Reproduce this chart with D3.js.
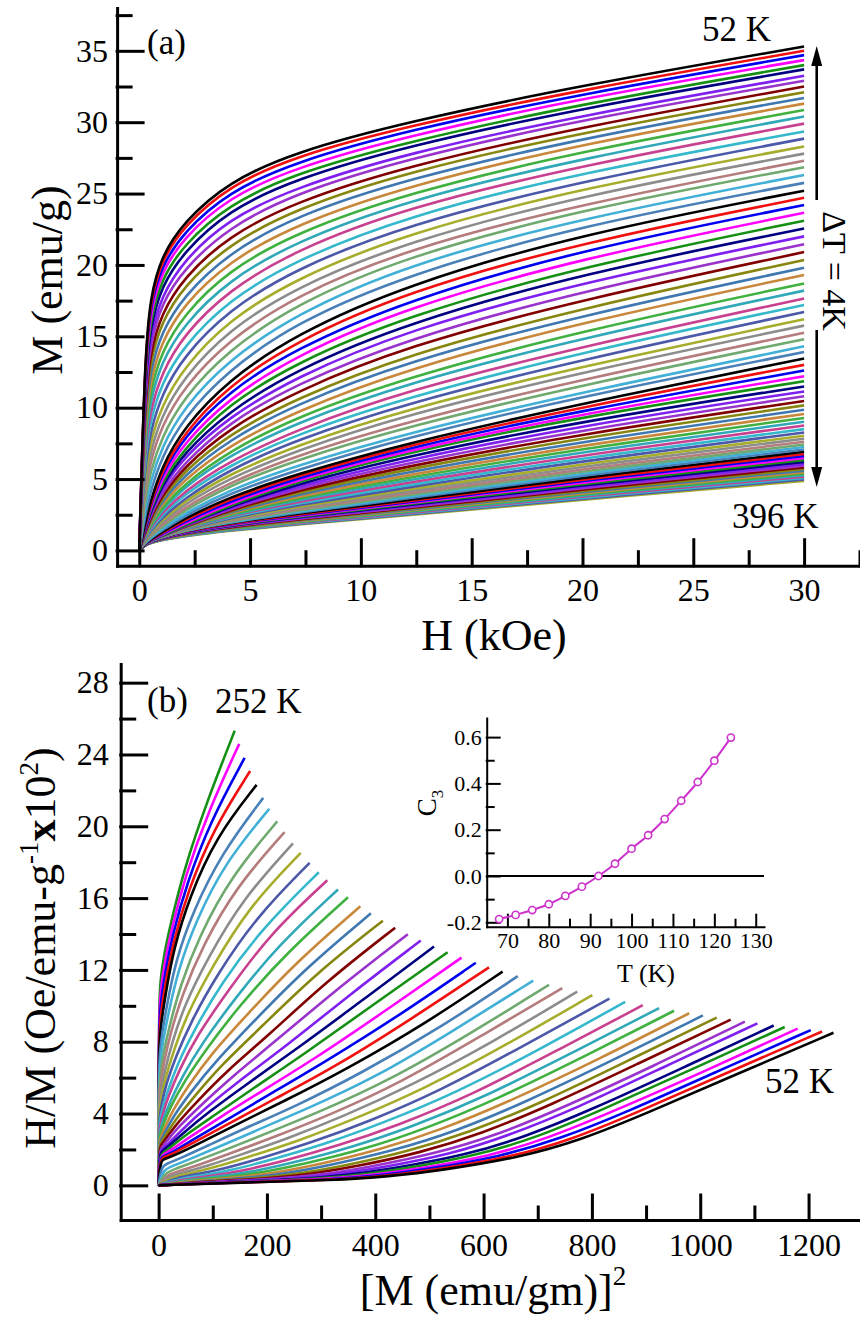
<!DOCTYPE html>
<html>
<head>
<meta charset="utf-8">
<script src="https://cdn.jsdelivr.net/npm/d3@7"></script>
<style>
  body { margin: 0; background: #fff; }
  svg { display: block; background: #fff; }
  svg text { font-family: "Liberation Serif", "Times New Roman", serif; }
</style>
</head>
<body>
<svg id="chart" width="860" height="1317"></svg>
<script>
var fieldKOe = [0, 0.25, 0.5, 1, 2, 4, 7, 12, 20, 30];

// isotherm temperatures (K), 4 K apart
var temps = [52, 56, 60, 64, 68, 72, 76, 80, 84, 88, 92, 96, 100, 104, 108, 112, 116, 120, 124, 128,
	132, 136, 140, 144, 148, 152, 156, 160, 164, 168, 172, 176, 180, 184, 188, 192, 196, 200, 204, 208,
	212, 216, 220, 224, 228, 232, 236, 240, 244, 248, 252, 256, 260, 264, 268, 272, 276, 280, 284, 288,
	292, 296, 300, 304, 308, 312, 316, 320, 324, 328, 332, 336, 340, 344, 348, 352, 356, 360, 364, 368,
	372, 376, 380, 384, 388, 392, 396];

// M (emu/g) of each isotherm at the field grid above, one row per temperature
var magRows = [
	[0, 13.5, 17.8, 20.6, 23.0, 25.8, 27.9, 30.0, 32.6, 35.3],
	[0, 13.3, 17.5, 20.3, 22.7, 25.5, 27.6, 29.7, 32.3, 35.0],
	[0, 13.0, 17.2, 19.9, 22.3, 25.1, 27.2, 29.4, 32.0, 34.7],
	[0, 12.6, 16.7, 19.5, 21.9, 24.7, 26.8, 29.0, 31.7, 34.35],
	[0, 12.2, 16.2, 19.0, 21.4, 24.2, 26.4, 28.6, 31.3, 34.0],
	[0, 11.8, 15.7, 18.5, 20.9, 23.8, 26.0, 28.3, 31.0, 33.7],
	[0, 11.3, 15.1, 17.8, 20.3, 23.2, 25.4, 27.8, 30.5, 33.25],
	[0, 10.9, 14.5, 17.3, 19.7, 22.6, 25.0, 27.4, 30.2, 32.9],
	[0, 10.3, 13.9, 16.6, 19.1, 22.0, 24.4, 26.9, 29.7, 32.5],
	[0, 9.8, 13.3, 16.0, 18.5, 21.4, 23.9, 26.5, 29.3, 32.1],
	[0, 9.3, 12.6, 15.3, 17.8, 20.8, 23.4, 26.0, 28.9, 31.7],
	[0, 8.7, 11.9, 14.6, 17.2, 20.2, 22.8, 25.5, 28.5, 31.3],
	[0, 8.2, 11.2, 13.9, 16.5, 19.6, 22.2, 25.0, 28.0, 30.85],
	[0, 7.6, 10.5, 13.2, 15.8, 18.9, 21.6, 24.5, 27.5, 30.4],
	[0, 7.0, 9.8, 12.4, 15.1, 18.2, 21.0, 24.0, 27.0, 29.9],
	[0, 6.4, 9.1, 11.7, 14.3, 17.5, 20.3, 23.4, 26.5, 29.35],
	[0, 5.8, 8.3, 10.9, 13.6, 16.8, 19.7, 22.8, 25.9, 28.85],
	[0, 5.2, 7.6, 10.1, 12.8, 16.1, 19.0, 22.2, 25.4, 28.3],
	[0, 4.6, 6.9, 9.4, 12.1, 15.4, 18.4, 21.6, 24.9, 27.8],
	[0, 4.1, 6.2, 8.7, 11.4, 14.7, 17.8, 21.1, 24.3, 27.3],
	[0, 3.5, 5.5, 7.9, 10.7, 14.0, 17.2, 20.6, 23.9, 26.85],
	[0, 2.9, 4.8, 7.2, 10.0, 13.3, 16.5, 20.0, 23.3, 26.3],
	[0, 2.3, 4.1, 6.5, 9.3, 12.6, 15.9, 19.3, 22.8, 25.75],
	[0, 1.8, 3.4, 5.8, 8.6, 11.9, 15.1, 18.6, 22.2, 25.2],
	[0, 1.7, 3.2, 5.5, 8.2, 11.5, 14.6, 18.1, 21.6, 24.7],
	[0, 1.6, 3.1, 5.3, 7.9, 11.1, 14.1, 17.5, 21.1, 24.2],
	[0, 1.6, 2.9, 5.0, 7.5, 10.6, 13.6, 17.0, 20.5, 23.65],
	[0, 1.5, 2.8, 4.7, 7.1, 10.2, 13.1, 16.4, 19.9, 23.1],
	[0, 1.4, 2.6, 4.5, 6.8, 9.7, 12.6, 15.9, 19.4, 22.55],
	[0, 1.35, 2.5, 4.3, 6.5, 9.3, 12.1, 15.4, 18.8, 22.0],
	[0, 1.3, 2.4, 4.0, 6.1, 8.9, 11.6, 14.8, 18.2, 21.45],
	[0, 1.2, 2.2, 3.8, 5.8, 8.5, 11.1, 14.3, 17.6, 20.9],
	[0, 1.15, 2.1, 3.6, 5.5, 8.1, 10.6, 13.7, 17.0, 20.35],
	[0, 1.1, 2.0, 3.4, 5.2, 7.7, 10.2, 13.2, 16.5, 19.8],
	[0, 1.0, 1.9, 3.2, 4.9, 7.3, 9.7, 12.7, 16.0, 19.3],
	[0, 0.97, 1.74, 2.95, 4.6, 6.9, 9.3, 12.1, 15.4, 18.7],
	[0, 0.91, 1.64, 2.77, 4.4, 6.6, 8.9, 11.7, 14.9, 18.2],
	[0, 0.86, 1.53, 2.58, 4.1, 6.2, 8.4, 11.2, 14.3, 17.65],
	[0, 0.81, 1.43, 2.41, 3.9, 5.9, 8.1, 10.7, 13.9, 17.2],
	[0, 0.76, 1.33, 2.24, 3.6, 5.6, 7.7, 10.3, 13.4, 16.7],
	[0, 0.71, 1.24, 2.08, 3.4, 5.3, 7.3, 9.9, 12.9, 16.2],
	[0, 0.66, 1.15, 1.93, 3.2, 5.0, 6.95, 9.5, 12.5, 15.75],
	[0, 0.62, 1.06, 1.78, 2.97, 4.7, 6.6, 9.0, 12.0, 15.25],
	[0, 0.57, 0.98, 1.64, 2.77, 4.5, 6.3, 8.65, 11.6, 14.8],
	[0, 0.53, 0.9, 1.5, 2.56, 4.2, 5.9, 8.2, 11.1, 14.3],
	[0, 0.49, 0.83, 1.37, 2.39, 3.96, 5.6, 7.9, 10.8, 13.9],
	[0, 0.46, 0.75, 1.25, 2.2, 3.7, 5.3, 7.5, 10.3, 13.45],
	[0, 0.455, 0.74, 1.18, 2.08, 3.55, 5.17, 7.33, 10.07, 13.0],
	[0, 0.45, 0.72, 1.12, 1.97, 3.40, 5.03, 7.16, 9.83, 12.6],
	[0, 0.45, 0.71, 1.06, 1.85, 3.25, 4.90, 6.98, 9.59, 12.2],
	[0, 0.45, 0.70, 1.01, 1.75, 3.12, 4.78, 6.83, 9.39, 11.85],
	[0, 0.45, 0.70, 1.0, 1.73, 3.03, 4.61, 6.58, 9.07, 11.49],
	[0, 0.45, 0.70, 1.0, 1.70, 2.94, 4.45, 6.34, 8.76, 11.14],
	[0, 0.45, 0.70, 1.0, 1.68, 2.86, 4.30, 6.10, 8.46, 10.80],
	[0, 0.45, 0.70, 1.0, 1.65, 2.78, 4.15, 5.88, 8.18, 10.47],
	[0, 0.45, 0.69, 0.99, 1.63, 2.71, 4.01, 5.67, 7.91, 10.16],
	[0, 0.45, 0.69, 0.99, 1.61, 2.63, 3.87, 5.46, 7.64, 9.85],
	[0, 0.44, 0.69, 0.98, 1.58, 2.56, 3.74, 5.26, 7.39, 9.56],
	[0, 0.44, 0.68, 0.98, 1.56, 2.49, 3.61, 5.08, 7.14, 9.28],
	[0, 0.44, 0.68, 0.97, 1.54, 2.42, 3.49, 4.90, 6.91, 9.01],
	[0, 0.44, 0.68, 0.97, 1.51, 2.36, 3.37, 4.72, 6.69, 8.75],
	[0, 0.44, 0.67, 0.96, 1.49, 2.30, 3.26, 4.56, 6.47, 8.50],
	[0, 0.43, 0.67, 0.95, 1.47, 2.24, 3.15, 4.40, 6.27, 8.26],
	[0, 0.43, 0.67, 0.95, 1.45, 2.18, 3.05, 4.25, 6.07, 8.03],
	[0, 0.43, 0.66, 0.94, 1.43, 2.13, 2.96, 4.11, 5.89, 7.82],
	[0, 0.43, 0.66, 0.94, 1.41, 2.08, 2.87, 3.97, 5.71, 7.61],
	[0, 0.43, 0.66, 0.93, 1.40, 2.03, 2.78, 3.84, 5.55, 7.42],
	[0, 0.42, 0.66, 0.93, 1.38, 1.98, 2.70, 3.72, 5.39, 7.24],
	[0, 0.42, 0.65, 0.92, 1.37, 1.94, 2.63, 3.61, 5.25, 7.07],
	[0, 0.42, 0.65, 0.92, 1.35, 1.90, 2.55, 3.50, 5.10, 6.91],
	[0, 0.42, 0.64, 0.91, 1.33, 1.86, 2.49, 3.42, 4.98, 6.75],
	[0, 0.41, 0.63, 0.89, 1.30, 1.83, 2.44, 3.35, 4.88, 6.61],
	[0, 0.41, 0.62, 0.88, 1.28, 1.79, 2.39, 3.28, 4.77, 6.47],
	[0, 0.40, 0.62, 0.87, 1.25, 1.76, 2.34, 3.20, 4.66, 6.33],
	[0, 0.40, 0.61, 0.85, 1.23, 1.72, 2.29, 3.14, 4.56, 6.20],
	[0, 0.39, 0.60, 0.84, 1.21, 1.69, 2.24, 3.07, 4.46, 6.07],
	[0, 0.39, 0.59, 0.83, 1.19, 1.66, 2.20, 3.00, 4.37, 5.94],
	[0, 0.38, 0.58, 0.82, 1.17, 1.62, 2.15, 2.94, 4.27, 5.82],
	[0, 0.38, 0.58, 0.80, 1.14, 1.59, 2.11, 2.88, 4.18, 5.70],
	[0, 0.38, 0.57, 0.79, 1.13, 1.57, 2.07, 2.82, 4.10, 5.59],
	[0, 0.37, 0.56, 0.78, 1.11, 1.54, 2.03, 2.76, 4.01, 5.48],
	[0, 0.37, 0.55, 0.77, 1.09, 1.51, 1.98, 2.71, 3.93, 5.37],
	[0, 0.37, 0.55, 0.76, 1.07, 1.48, 1.95, 2.66, 3.85, 5.27],
	[0, 0.36, 0.54, 0.75, 1.05, 1.46, 1.91, 2.60, 3.78, 5.17],
	[0, 0.36, 0.53, 0.74, 1.04, 1.43, 1.87, 2.55, 3.70, 5.07],
	[0, 0.35, 0.53, 0.73, 1.02, 1.41, 1.84, 2.50, 3.63, 4.97],
	[0, 0.35, 0.52, 0.72, 1.00, 1.38, 1.80, 2.45, 3.55, 4.87]
];

// line colours, repeating every 23 isotherms
var palette = ["#000000", "#f01010", "#0000f0", "#ff00ff", "#159015", "#000080", "#8020f0", "#9933cc",
	"#800000", "#868610", "#3f78b0", "#c8883c", "#40b040", "#30a8b8", "#c84090", "#36b8cc",
	"#4c58a8", "#a6ad2c", "#8c8c8c", "#b47c7c", "#6fa96f", "#42b0d6", "#4a80b8"];

// inset: C3 versus T
var c3Temps = [68, 72, 76, 80, 84, 88, 92, 96, 100, 104, 108, 112, 116, 120, 124];
var c3Values = [-0.186, -0.168, -0.147, -0.122, -0.086, -0.046, 0.0, 0.053, 0.118, 0.176, 0.246, 0.325, 0.406, 0.498, 0.598];

// ticks
var hTicks = [0, 5, 10, 15, 20, 25, 30], hMinor = [2.5, 7.5, 12.5, 17.5, 22.5, 27.5, 32.5];
var mTicks = [0, 5, 10, 15, 20, 25, 30, 35], mMinor = [2.5, 7.5, 12.5, 17.5, 22.5, 27.5, 32.5, 37.5];
var sqTicks = [0, 200, 400, 600, 800, 1000, 1200], sqMinor = [100, 300, 500, 700, 900, 1100];
var hmTicks = [0, 4, 8, 12, 16, 20, 24, 28], hmMinor = [2, 6, 10, 14, 18, 22, 26];
var tTicks = [70, 80, 90, 100, 110, 120, 130], tMinor = [75, 85, 95, 105, 115, 125];
var cTicks = [-0.2, 0.0, 0.2, 0.4, 0.6], cMinor = [-0.1, 0.1, 0.3, 0.5];

var serif = '"Liberation Serif", "Times New Roman", serif';
var svg = d3.select("#chart");

// major + minor inward ticks
function drawAxis(make, scale, major, minor, o) {
	var g = svg.append("g").attr("transform", o.at)
		.call(make(scale).tickValues(major).tickSize(-o.len).tickSizeOuter(0)
			.tickPadding(o.pad).tickFormat(o.fmt));
	var m = svg.append("g").attr("transform", o.at)
		.call(make(scale).tickValues(minor).tickSize(-o.minor).tickSizeOuter(0).tickFormat(""));
	m.select(".domain").remove();
	[g, m].forEach(function(s) {
		s.attr("font-family", null).attr("font-size", null);
		s.selectAll("path, line").attr("stroke", "#000").attr("stroke-width", o.sw)
			.attr("stroke-linecap", "square");
		s.selectAll("text").style("font-family", serif).style("font-size", o.font + "px")
			.attr("fill", "#000");
	});
}

function label(x, y, txt, size, anchor) {
	return svg.append("text").attr("x", x).attr("y", y)
		.style("font-size", size + "px").attr("text-anchor", anchor || "start").text(txt);
}

// ---------- panel (a): M vs H ----------
var xA = d3.scaleLinear().domain([-1, 32.5]).range([117.1, 859.5]),
	yA = d3.scaleLinear().domain([-1.07, 38]).range([565.7, 8]);

var lineA = d3.line()
	.x(function(d) { return xA(d[0]); })
	.y(function(d) { return yA(d[1]); })
	.curve(d3.curveBasis);

var curvesA = svg.append("g");
for (var i = magRows.length - 1; i >= 0; i--) {
	var pts = fieldKOe.map(function(h, j) { return [h, magRows[i][j]]; });
	curvesA.append("path")
		.attr("d", lineA(pts))
		.attr("fill", "none")
		.attr("stroke", palette[i % palette.length])
		.attr("stroke-width", 2.6);
}

drawAxis(d3.axisBottom, xA, hTicks, hMinor, {at: "translate(0," + yA(-1.07) + ")",
	len: 26, minor: 14, pad: 13, sw: 3, font: 32, fmt: d3.format("d")});
drawAxis(d3.axisLeft, yA, mTicks, mMinor, {at: "translate(" + xA(-1) + ",0)",
	len: 26, minor: 14, pad: 9, sw: 3, font: 32, fmt: d3.format("d")});

svg.append("text").attr("transform", "translate(62,280) rotate(-90)")
	.attr("text-anchor", "middle").style("font-size", "44px").text("M (emu/g)");
label(494, 650, "H (kOe)", 44, "middle");

label(147, 54, "(a)", 35);
label(702, 41, temps[0] + " K", 35);
label(732, 528, temps[temps.length - 1] + " K", 35);
svg.append("text").attr("transform", "translate(823,271) rotate(90)")
	.attr("text-anchor", "middle").style("font-size", "34px").text("\u0394T = 4K");

// arrows
svg.append("line").attr("x1", 816.7).attr("x2", 816.7).attr("y1", 200).attr("y2", 62)
	.attr("stroke", "#000").attr("stroke-width", 2.6);
svg.append("path").attr("d", "M816.7,46 L811.2,66 L822.2,66 Z").attr("fill", "#000");
svg.append("line").attr("x1", 816.7).attr("x2", 816.7).attr("y1", 330).attr("y2", 470)
	.attr("stroke", "#000").attr("stroke-width", 2.6);
svg.append("path").attr("d", "M816.7,487 L811.2,467 L822.2,467 Z").attr("fill", "#000");

// ---------- panel (b): H/M vs M^2 (isotherms up to 252 K) ----------
var xB = d3.scaleLinear().domain([-70, 1295]).range([120.7, 860]),
	yB = d3.scaleLinear().domain([-1.93, 29.04]).range([1220, 664]);

var lineB = d3.line()
	.x(function(d) { return xB(d[0]); })
	.y(function(d) { return yB(d[1]); })
	.curve(d3.curveBasis);

var curvesB = svg.append("g");
for (var k = magRows.length - 1; k >= 0; k--) {
	if (temps[k] > 252) continue;
	var arrott = fieldKOe.map(function(h, j) {
		var m = magRows[k][j];
		// H/M in units of 10^2 Oe/(emu/g)
		return [m * m, m > 0 ? h * 10 / m : 0];
	});
	curvesB.append("path")
		.attr("d", lineB(arrott))
		.attr("fill", "none")
		.attr("stroke", palette[k % palette.length])
		.attr("stroke-width", 2.6);
}

drawAxis(d3.axisBottom, xB, sqTicks, sqMinor, {at: "translate(0," + yB(-1.93) + ")",
	len: 25, minor: 13, pad: 13, sw: 3, font: 32, fmt: d3.format("d")});
drawAxis(d3.axisLeft, yB, hmTicks, hmMinor, {at: "translate(" + xB(-70) + ",0)",
	len: 26, minor: 14, pad: 12, sw: 3, font: 32, fmt: d3.format("d")});

var yt = svg.append("text").attr("transform", "translate(55,948) rotate(-90)")
	.attr("text-anchor", "middle").style("font-size", "44px");
yt.append("tspan").text("H/M (Oe/emu-g");
yt.append("tspan").style("font-size", "27px").attr("dy", -17).text("-1");
yt.append("tspan").attr("dy", 17).attr("font-weight", "bold").text("x");
yt.append("tspan").text("10");
yt.append("tspan").style("font-size", "27px").attr("dy", -17).text("2");
yt.append("tspan").attr("dy", 17).text(")");

var xt = svg.append("text").attr("x", 493).attr("y", 1305).attr("text-anchor", "middle")
	.style("font-size", "44px");
xt.append("tspan").text("[M (emu/gm)]");
xt.append("tspan").style("font-size", "27px").attr("dy", -20).text("2");

label(147, 712, "(b)", 35);
label(215, 713, "252 K", 35);
label(765, 1093, temps[0] + " K", 35);

// ---------- inset: C3 vs T ----------
var xI = d3.scaleLinear().domain([65, 132]).range([486.7, 764]),
	yI = d3.scaleLinear().domain([-0.219, 0.6825]).range([926.7, 718]);

svg.append("line").attr("x1", xI(65)).attr("x2", xI(132)).attr("y1", yI(0)).attr("y2", yI(0))
	.attr("stroke", "#000").attr("stroke-width", 2);

drawAxis(d3.axisBottom, xI, tTicks, tMinor, {at: "translate(0," + yI(-0.219) + ")",
	len: 12, minor: 7, pad: 6, sw: 2, font: 22, fmt: d3.format("d")});
drawAxis(d3.axisLeft, yI, cTicks, cMinor, {at: "translate(" + xI(65) + ",0)",
	len: 13, minor: 7, pad: 5, sw: 2, font: 22, fmt: function(d) { return d.toFixed(1); }});

var c3 = c3Temps.map(function(t, j) { return [t, c3Values[j]]; });
svg.append("path")
	.attr("d", d3.line().x(function(d) { return xI(d[0]); }).y(function(d) { return yI(d[1]); })
		.curve(d3.curveMonotoneX)(c3))
	.attr("fill", "none").attr("stroke", "#cc33cc").attr("stroke-width", 2);
svg.append("g").selectAll("circle").data(c3).enter().append("circle")
	.attr("cx", function(d) { return xI(d[0]); })
	.attr("cy", function(d) { return yI(d[1]); })
	.attr("r", 3.6)
	.attr("fill", "#fff").attr("stroke", "#cc33cc").attr("stroke-width", 1.6);

label(646, 982, "T (K)", 26, "middle");
var cl = svg.append("text").attr("transform", "translate(436,803) rotate(-90)")
	.attr("text-anchor", "middle").style("font-size", "27px");
cl.append("tspan").text("C");
cl.append("tspan").style("font-size", "17px").attr("dy", 7).text("3");
</script>
</body>
</html>
